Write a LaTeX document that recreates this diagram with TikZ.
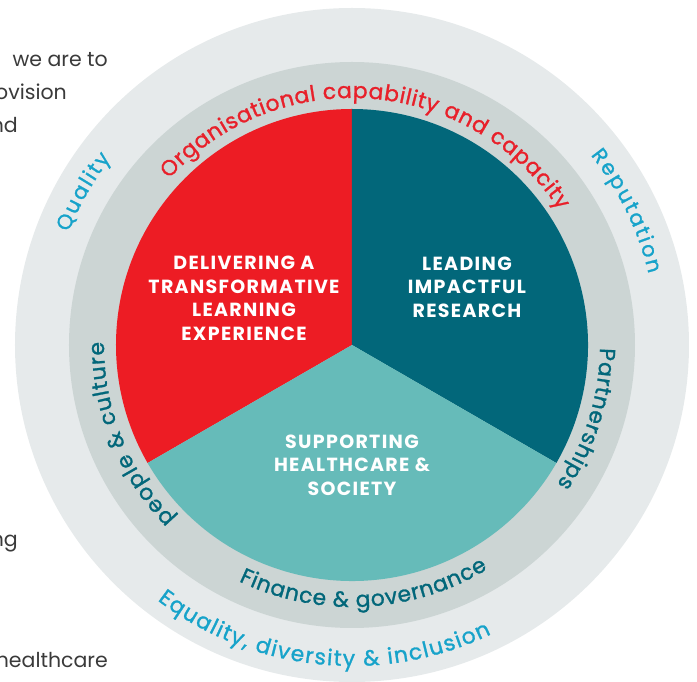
\documentclass[tikz,border=0pt]{standalone}
\usepackage{fontspec}
\setmainfont{Poppins}
\newfontfamily\arcfamily[FakeBold=1.2]{Poppins}
\newfontfamily\capfamily[LetterSpace=7]{Poppins}
\usetikzlibrary{decorations.text}
\definecolor{ringout}{HTML}{E6EAEB}
\definecolor{ringmid}{HTML}{CCD5D4}
\definecolor{redc}{HTML}{ED1C24}
\definecolor{tealdark}{HTML}{02677A}
\definecolor{teallight}{HTML}{66BBB9}
\definecolor{cyantxt}{HTML}{17A3CA}
\definecolor{redtxt}{HTML}{E8202A}
\definecolor{bodytxt}{HTML}{3A3A3A}
\newcommand\arcfnt{\arcfamily\fontsize{21.8}{24}\selectfont}
\newcommand\arcsmall{\arcfamily\fontsize{20.8}{24}\selectfont}
\newcommand\capfnt{\capfamily\fontsize{19}{23.5}\selectfont\bfseries}
\tikzset{
  captext/.style={text=white, align=center, font=\capfnt, inner sep=0pt},
  sidetext/.style={text=bodytxt, font=\fontsize{20.5}{24}\selectfont, anchor=base east, inner sep=0pt},
  arctext/.style 2 args={decorate, decoration={text along path, text align=fit to path, text color=#1,
      text={|\arcfnt|#2}}},
  arctextsm/.style 2 args={decorate, decoration={text along path, text align=fit to path, text color=#1,
      text={|\arcsmall|#2}}},
}
\begin{document}
\begin{tikzpicture}[x=1pt,y=1pt]
\useasboundingbox (-352,-337) rectangle (345,345);
% rings
\fill[ringout] (0,0) circle (337);
\fill[ringmid] (0,0) circle (283);
% pie
\fill[redc] (0,0) -- (90:236) arc[start angle=90, end angle=210, radius=236] -- cycle;
\fill[tealdark] (0,0) -- (-30:236) arc[start angle=-30, end angle=90, radius=236] -- cycle;
\fill[teallight] (0,0) -- (210:236) arc[start angle=210, end angle=330, radius=236] -- cycle;
% centre texts
\node[captext] (learn) at (-108,46.5) {DELIVERING A\\TRANSFORMATIVE\\LEARNING\\EXPERIENCE};
\node[captext] (research) at (115,58) {LEADING\\IMPACTFUL\\RESEARCH};
\node[captext] (society) at (0,-120) {SUPPORTING\\HEALTHCARE \&\\SOCIETY};
% middle ring texts
\path[arctext={redtxt}{Organisational capability and capacity}]
  (137.8:247) arc[start angle=137.8, end angle=33, radius=247];
\path[arctext={tealdark}{Partnerships}]
  (-0.7:248) arc[start angle=-0.7, end angle=-34.2, radius=248];
\path[arctext={tealdark}{people {\&} culture}]
  (224.5:248) arc[start angle=224.5, end angle=179.3, radius=248];
\path[arctext={tealdark}{Finance {\&} governance}]
  (244.4:262) arc[start angle=244.4, end angle=301.2, radius=262];
% outer ring texts
\path[arctextsm={cyantxt}{Quality}]
  (158.3:305) arc[start angle=158.3, end angle=142.3, radius=305];
\path[arctextsm={cyantxt}{Reputation}]
  (38.5:305) arc[start angle=38.5, end angle=13.5, radius=305];
\path[arctext={cyantxt}{Equality, diversity {\&} inclusion}]
  (232.7:321) arc[start angle=232.7, end angle=295.7, radius=321];
% cut-off body text at left
\node[sidetext] (t1) at (-244,278.3) {we are to};
\node[sidetext] (t2) at (-285,245) {ovision};
\node[sidetext] (t3) at (-334,212) {nd};
\node[sidetext] (t4) at (-334,-201.7) {ng};
\node[sidetext] (t5) at (-244,-323) {healthcare};
\end{tikzpicture}
\end{document}
